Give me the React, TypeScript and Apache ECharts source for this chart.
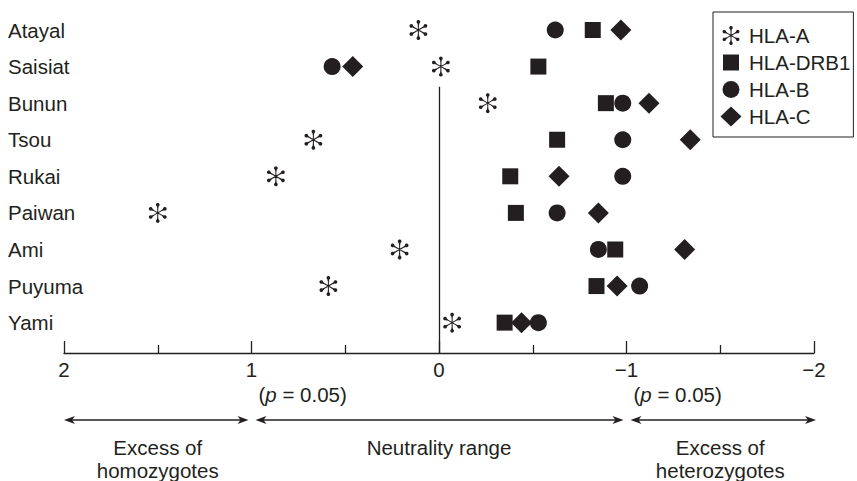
import React, { useEffect, useRef } from 'react';
import * as echarts from 'echarts';

// ---------- data ----------
const POPULATIONS = ['Atayal', 'Saisiat', 'Bunun', 'Tsou', 'Rukai', 'Paiwan', 'Ami', 'Puyuma', 'Yami'];
const HLA_A = [0.11, -0.01, -0.26, 0.67, 0.87, 1.5, 0.21, 0.59, -0.07];
const HLA_DRB1 = [-0.82, -0.53, -0.89, -0.63, -0.38, -0.41, -0.94, -0.84, -0.35];
const HLA_B = [-0.62, 0.57, -0.98, -0.98, -0.98, -0.63, -0.85, -1.07, -0.53];
const HLA_C = [-0.97, 0.46, -1.12, -1.34, -0.64, -0.85, -1.31, -0.95, -0.44];
const X_MIN = -2;
const X_MAX = 2;
const P_LABEL_VALUES = [1, -1];
const RANGE_BOUNDS = [[2, 1], [1, -1], [-1, -2]];
const RANGE_LABELS = [['Excess of', 'homozygotes'], ['Neutrality range'], ['Excess of', 'heterozygotes']];
const ZERO_LINE_FROM_ROW = 1.55;

// ---------- style ----------
const INK = '#231f20';
const FONT = '"Liberation Sans", Arial, Helvetica, sans-serif';
const FS = 20.5;
const Y_MAX = POPULATIONS.length - 1 + 0.83;

function asteriskPath(cx: number, cy: number, s: number): string {
  const parts: string[] = [];
  for (let k = 0; k < 6; k++) {
    const a = ((90 + 60 * k) * Math.PI) / 180;
    const ca = Math.cos(a);
    const sa = Math.sin(a);
    const pts: number[][] = [[0, -2.6], [22, -2.6]];
    for (let t = -150; t <= 150; t += 15) {
      const th = (t * Math.PI) / 180;
      pts.push([40 + 9 * Math.cos(th), 9 * Math.sin(th)]);
    }
    pts.push([22, 2.6], [0, 2.6]);
    const d = pts
      .map((p, i) => {
        const x = cx + s * (p[0] * ca - p[1] * sa);
        const y = cy + s * (p[0] * sa + p[1] * ca);
        return (i === 0 ? 'M' : 'L') + x.toFixed(2) + ' ' + y.toFixed(2);
      })
      .join(' ');
    parts.push(d + ' Z');
  }
  return parts.join(' ');
}

const BOX = 'M0 0 M26 20 ';
const SERIES_DEFS = [
  {
    name: 'HLA-A',
    values: HLA_A,
    symbol: 'path://' + asteriskPath(0, 0, 1),
    size: 20,
    icon: 'path://' + BOX + asteriskPath(13, 10, 9.5 / 49),
  },
  { name: 'HLA-DRB1', values: HLA_DRB1, symbol: 'rect', size: 16, icon: 'path://' + BOX + 'M5 2 L21 2 L21 18 L5 18 Z' },
  {
    name: 'HLA-B',
    values: HLA_B,
    symbol: 'circle',
    size: 17,
    icon: 'path://' + BOX + 'M4.5 10 A8.5 8.5 0 1 0 21.5 10 A8.5 8.5 0 1 0 4.5 10 Z',
  },
  { name: 'HLA-C', values: HLA_C, symbol: 'diamond', size: 21, icon: 'path://' + BOX + 'M13 0 L23.5 10 L13 20 L2.5 10 Z' },
];

function fmtX(v: number): string {
  if (v === 0) return '0';
  return v < 0 ? '\u2212' + String(-v) : String(v);
}

function arrow(xa: number, xb: number, y: number): any[] {
  const x1 = Math.min(xa, xb);
  const x2 = Math.max(xa, xb);
  const L = 11;
  const W = 4;
  const N = 3;
  return [
    { type: 'line', silent: true, shape: { x1: x1 + N, y1: y, x2: x2 - N, y2: y }, style: { stroke: INK, lineWidth: 1.3 } },
    {
      type: 'polygon',
      silent: true,
      shape: { points: [[x1, y], [x1 + L, y - W], [x1 + L - N, y], [x1 + L, y + W]] },
      style: { fill: INK },
    },
    {
      type: 'polygon',
      silent: true,
      shape: { points: [[x2, y], [x2 - L, y - W], [x2 - L + N, y], [x2 - L, y + W]] },
      style: { fill: INK },
    },
  ];
}

export default function App() {
  const ref = useRef<HTMLDivElement>(null);

  useEffect(() => {
    if (!ref.current) return;
    const chart = echarts.init(ref.current, null, { renderer: 'svg' });

    const option: any = {
      animation: false,
      backgroundColor: '#ffffff',
      textStyle: { fontFamily: FONT, color: INK },
      grid: { left: 64, right: 43, top: 30, bottom: 128, containLabel: false, outerBoundsMode: 'none' },
      xAxis: {
        type: 'value',
        inverse: true,
        min: X_MIN,
        max: X_MAX,
        interval: 1,
        position: 'bottom',
        axisLine: { show: true, onZero: false, lineStyle: { color: INK, width: 1.3 } },
        axisTick: { show: true, inside: true, length: 12, lineStyle: { color: INK, width: 1.3 } },
        minorTick: { show: true, splitNumber: 2, length: 8, lineStyle: { color: INK, width: 1.3 } },
        splitLine: { show: false },
        minorSplitLine: { show: false },
        axisLabel: { margin: 6, fontSize: FS, color: INK, fontFamily: FONT, formatter: fmtX },
      },
      yAxis: {
        type: 'value',
        inverse: true,
        min: 0,
        max: Y_MAX,
        interval: 1,
        axisLine: { show: false, onZero: false },
        axisTick: { show: false },
        splitLine: { show: false },
        axisLabel: {
          align: 'left',
          margin: 56,
          fontSize: FS,
          color: INK,
          fontFamily: FONT,
          formatter: (v: number) => (Number.isInteger(v) && v >= 0 && v < POPULATIONS.length ? POPULATIONS[v] : ''),
        },
      },
      legend: {
        orient: 'vertical',
        left: 713,
        top: 12,
        padding: [13, 3, 10, 5],
        itemWidth: 26,
        itemHeight: 20,
        itemGap: 6,
        borderColor: INK,
        borderWidth: 1,
        selectedMode: false,
        textStyle: { fontSize: FS, color: INK, fontFamily: FONT },
        data: SERIES_DEFS.map((s) => ({ name: s.name, icon: s.icon, itemStyle: { color: INK } })),
      },
      series: SERIES_DEFS.map((s, si) => ({
        type: 'scatter',
        name: s.name,
        symbol: s.symbol,
        symbolSize: s.size,
        symbolKeepAspect: true,
        itemStyle: { color: INK, opacity: 1 },
        emphasis: { disabled: true },
        data: s.values.map((v, i) => [v, i]),
        ...(si === 0
          ? {
              markLine: {
                silent: true,
                symbol: ['none', 'none'],
                label: { show: false },
                emphasis: { disabled: true },
                lineStyle: { color: INK, width: 1.3, type: 'solid' },
                data: [[{ coord: [0, ZERO_LINE_FROM_ROW] }, { coord: [0, Y_MAX] }]],
              },
            }
          : {}),
      })),
    };

    chart.setOption(option);

    const px = (v: number) => chart.convertToPixel({ xAxisIndex: 0 } as any, v) as unknown as number;
    const graphics: any[] = [];
    P_LABEL_VALUES.forEach((v) => {
      graphics.push({
        type: 'text',
        silent: true,
        style: {
          text: '({i|p} = 0.05)',
          x: px(v) + 7,
          y: 394,
          textAlign: 'left',
          textVerticalAlign: 'middle',
          fontSize: FS,
          fontFamily: FONT,
          fill: INK,
          rich: { i: { fontStyle: 'italic', fontSize: FS, fontFamily: FONT, fill: INK } },
        },
      });
    });
    RANGE_BOUNDS.forEach((b, k) => {
      const xa = px(b[0]);
      const xb = px(b[1]);
      const outerA = b[0] === X_MAX || b[0] === X_MIN;
      const outerB = b[1] === X_MAX || b[1] === X_MIN;
      const left = Math.min(xa, xb);
      const right = Math.max(xa, xb);
      const l = left + (outerA ? 0 : 4);
      const r = right - (outerB ? -2 : 3);
      graphics.push(...arrow(l, r, 420));
      graphics.push({
        type: 'text',
        silent: true,
        style: {
          text: RANGE_LABELS[k].join('\n'),
          x: (xa + xb) / 2,
          y: 435.5,
          textAlign: 'center',
          textVerticalAlign: 'top',
          fontSize: FS,
          lineHeight: 23,
          fontFamily: FONT,
          fill: INK,
        },
      });
    });
    chart.setOption({ graphic: graphics });

    return () => chart.dispose();
  }, []);

  return <div ref={ref} style={{ position: 'absolute', left: 0, top: 0, width: 857, height: 481 }} />;
}
